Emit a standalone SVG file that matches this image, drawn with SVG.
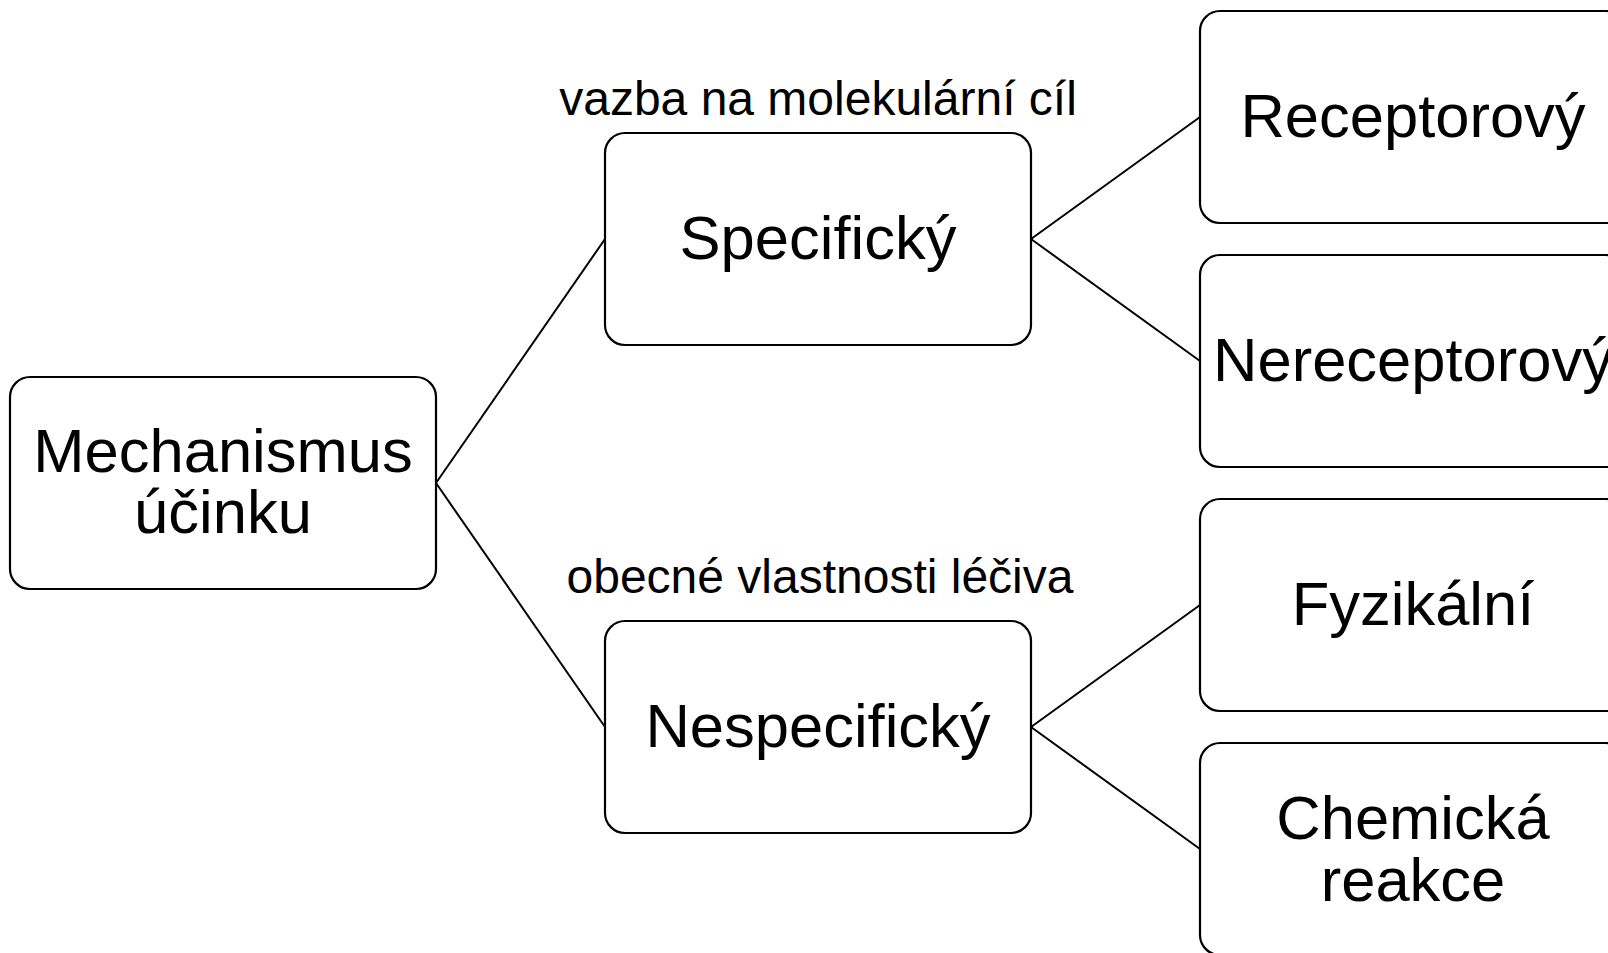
<svg xmlns="http://www.w3.org/2000/svg" width="1608" height="953" viewBox="0 0 1608 953">
<style>
.box{fill:#fff;stroke:#000;stroke-width:2.2}
.t{font-family:"Liberation Sans",Arial,sans-serif;font-size:61.5px;fill:#000;text-anchor:middle}
.l{font-family:"Liberation Sans",Arial,sans-serif;font-size:48px;fill:#000;text-anchor:middle}
.c{stroke:#000;stroke-width:2;fill:none}
</style>
<rect width="1608" height="953" fill="#fff"/>
<g id="connectors">
<line class="c" x1="436" y1="483" x2="605" y2="239"/>
<line class="c" x1="436" y1="483" x2="605" y2="727"/>
<line class="c" x1="1031" y1="239" x2="1200" y2="117"/>
<line class="c" x1="1031" y1="239" x2="1200" y2="361"/>
<line class="c" x1="1031" y1="727" x2="1200" y2="605"/>
<line class="c" x1="1031" y1="727" x2="1200" y2="849"/>
</g>
<g id="root"><rect class="box" x="10" y="377" width="426" height="212" rx="20"/><text class="t" x="223" y="471.5">Mechanismus</text><text class="t" x="223" y="533">účinku</text></g>
<g id="specific"><rect class="box" x="605" y="133" width="426" height="212" rx="20"/><text class="t" x="818" y="259">Specifický</text></g>
<g id="label-specific"><text class="l" x="818" y="115">vazba na molekulární cíl</text></g>
<g id="nonspecific"><rect class="box" x="605" y="621" width="426" height="212" rx="20"/><text class="t" x="818" y="747">Nespecifický</text></g>
<g id="label-nonspecific"><text class="l" x="820" y="593">obecné vlastnosti léčiva</text></g>
<g id="receptor"><rect class="box" x="1200" y="11" width="426" height="212" rx="20"/><text class="t" x="1413" y="137">Receptorový</text></g>
<g id="nonreceptor"><rect class="box" x="1200" y="255" width="426" height="212" rx="20"/><text class="t" x="1413" y="381">Nereceptorový</text></g>
<g id="physical"><rect class="box" x="1200" y="499" width="426" height="212" rx="20"/><text class="t" x="1413" y="625">Fyzikální</text></g>
<g id="chemical"><rect class="box" x="1200" y="743" width="426" height="212" rx="20"/><text class="t" x="1413" y="839">Chemická</text><text class="t" x="1413" y="900.5">reakce</text></g>
</svg>
